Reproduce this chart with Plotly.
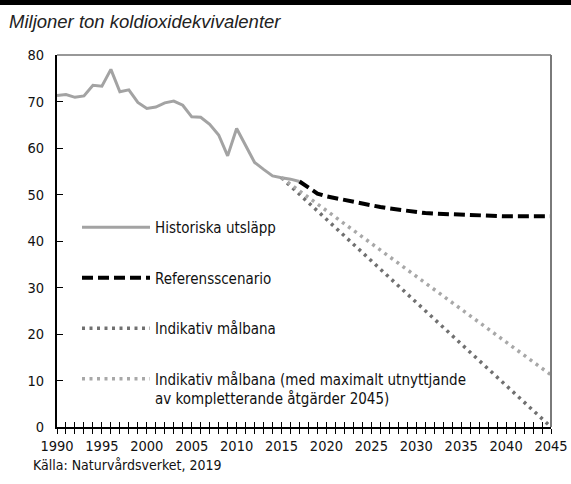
import plotly.graph_objects as go

hist_years = list(range(1990, 2018))
hist_vals = [71.3, 71.5, 70.9, 71.2, 73.5, 73.3, 76.9, 72.1, 72.5, 69.8,
             68.5, 68.8, 69.7, 70.1, 69.2, 66.7, 66.6, 65.1, 62.8, 58.3,
             64.2, 60.4, 56.9, 55.4, 54.0, 53.6, 53.3, 52.8]

ref_years = list(range(2017, 2046))
ref_vals = [52.8, 51.5, 50.2, 49.6, 49.2, 48.8, 48.3, 47.9, 47.6, 47.3,
            47.0, 46.7, 46.45, 46.2, 46.0, 45.9, 45.8, 45.7, 45.6, 45.5,
            45.5, 45.4, 45.4, 45.3, 45.3, 45.3, 45.3, 45.3, 45.3]

target_years = [2015, 2045]
target_vals = [53.6, 0.0]

target2_years = [2015, 2045]
target2_vals = [53.6, 11.2]

names = ["Historiska utsläpp", "Referensscenario", "Indikativ målbana",
         "Indikativ målbana (med maximalt utnyttjande<br>av kompletterande åtgärder 2045)"]

x_tickvals = list(range(1990, 2046))
x_ticktext = [str(y) if y % 5 == 0 else "" for y in x_tickvals]
y_tickvals = [0, 10, 20, 30, 40, 50, 60, 70, 80]

COND = "DejaVu Sans Condensed, DejaVu Sans, sans-serif"

fig = go.Figure()
fig.add_trace(go.Scatter(x=hist_years, y=hist_vals, mode="lines", name=names[0],
                         line=dict(color="#a3a3a3", width=3), legendgroup="a"))
fig.add_trace(go.Scatter(x=ref_years, y=ref_vals, mode="lines", name=names[1],
                         line=dict(color="#000000", width=4, dash="11px,5px"), legendgroup="b"))
fig.add_trace(go.Scatter(x=target_years, y=target_vals, mode="lines", name=names[2],
                         line=dict(color="#707070", width=3.5, dash="3px,4.5px"), legendgroup="c"))
fig.add_trace(go.Scatter(x=target2_years, y=target2_vals, mode="lines", name=names[3],
                         line=dict(color="#a8a8a8", width=3.5, dash="3px,4.5px"), legendgroup="d"))

W, H = 571, 484
L, R, T, B = 57, 20, 55, 57
pw, ph = W - L - R, H - T - B

fig.update_layout(
    width=W, height=H,
    margin=dict(l=L, r=R, t=T, b=B, autoexpand=False),
    paper_bgcolor="white", plot_bgcolor="white",
    font=dict(family=COND, size=14, color="#111"),
    showlegend=True,
    legend=dict(x=(77 - L) / pw, y=1 - (211 - T) / ph, xanchor="left", yanchor="top",
                traceorder="grouped", tracegroupgap=28, valign="top",
                itemwidth=68, font=dict(family=COND, size=15, color="#111"),
                bgcolor="rgba(0,0,0,0)"),
    xaxis=dict(range=[1990, 2045], tickvals=x_tickvals, ticktext=x_ticktext,
               ticks="outside", ticklen=5, tickwidth=1.2, tickcolor="#000",
               showline=True, linecolor="#000", linewidth=2, showgrid=False,
               zeroline=False, automargin=False,
               tickfont=dict(family=COND, size=14.5, color="#111")),
    xaxis2=dict(range=[1990, 2045], overlaying="x", anchor="y", side="bottom",
                tickvals=x_tickvals, showticklabels=False, ticks="inside",
                ticklen=5, tickwidth=1.2, tickcolor="#000", showline=False,
                showgrid=False, zeroline=False),
    yaxis=dict(range=[0, 80], tickvals=y_tickvals, ticks="inside", ticklen=6,
               tickwidth=1.2, tickcolor="#000", showline=True, linecolor="#000",
               linewidth=2, showgrid=False, zeroline=False, ticklabelstandoff=8,
               automargin=False,
               tickfont=dict(family=COND, size=14.5, color="#111")),
)

# invisible trace to activate xaxis2
fig.add_trace(go.Scatter(x=[1990], y=[0], xaxis="x2", mode="markers",
                         marker=dict(opacity=0), showlegend=False, hoverinfo="skip"))

# frame: top and right borders
fig.add_shape(type="line", xref="paper", yref="paper", x0=0, x1=1, y0=1, y1=1,
              line=dict(color="#333", width=1.2))
fig.add_shape(type="line", xref="paper", yref="paper", x0=1, x1=1, y0=0, y1=1,
              line=dict(color="#7a7a7a", width=2))
# top black bar
fig.add_shape(type="rect", xref="paper", yref="paper",
              x0=-L / pw, x1=1 + R / pw, y0=1 + (T - 5) / ph, y1=1 + T / ph,
              line=dict(width=0), fillcolor="#000")

fig.add_annotation(text="Miljoner ton koldioxidekvivalenter", xref="paper", yref="paper",
                   x=-(L - 7) / pw, y=1 + (T - 21) / ph, xanchor="left", yanchor="middle",
                   showarrow=False,
                   font=dict(family="Liberation Sans, Arial, sans-serif", size=18.5,
                             color="#222", style="italic"))
fig.add_annotation(text="Källa: Naturvårdsverket, 2019", xref="paper", yref="paper",
                   x=-(L - 31) / pw, y=-(465 - (T + ph)) / ph, xanchor="left",
                   yanchor="middle", showarrow=False,
                   font=dict(family=COND, size=14, color="#111"))

fig.write_html("out.html", config={"displayModeBar": False},
               post_script="document.body.style.margin='0';document.body.style.overflow='hidden';")
